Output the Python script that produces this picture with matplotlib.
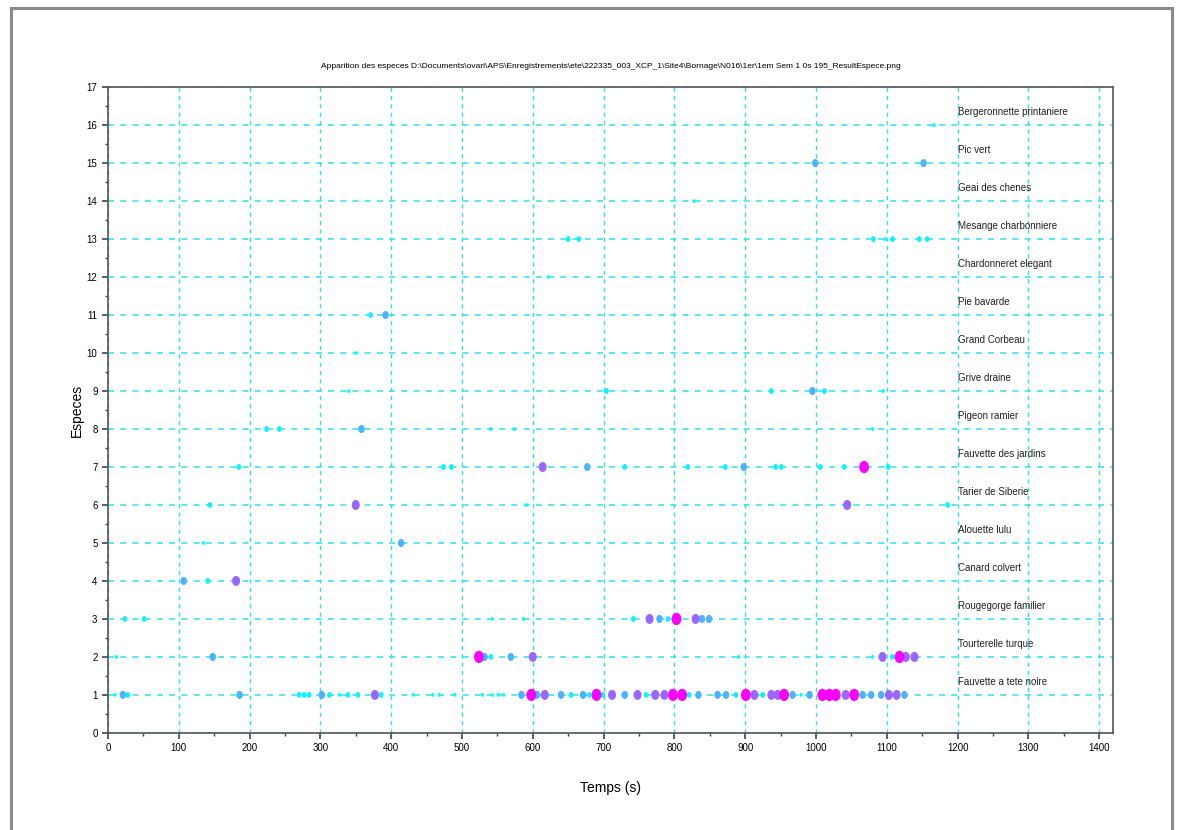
import matplotlib
matplotlib.use("Agg")
import matplotlib.pyplot as plt
from matplotlib.lines import Line2D
from matplotlib.markers import MarkerStyle
from matplotlib.transforms import Affine2D
import numpy as np

plt.rcParams['font.family'] = ['Liberation Sans', 'DejaVu Sans']

title = ("Apparition des especes D:\\Documents\\ovari\\APS\\Enregistrements\\ete\\222335_003_XCP_1\\Site4\\"
         "Bornage\\N016\\1er\\1em Sem 1 0s 195_ResultEspece.png")

species = ["Fauvette a tete noire", "Tourterelle turque", "Rougegorge familier",
           "Canard colvert", "Alouette lulu", "Tarier de Siberie", "Fauvette des jardins",
           "Pigeon ramier", "Grive draine", "Grand Corbeau", "Pie bavarde",
           "Chardonneret elegant", "Mesange charbonniere", "Geai des chenes",
           "Pic vert", "Bergeronnette printaniere"]

# detections: species index (1..16), time (s), score level (0..4)
det_species = ([1] * 65 + [2] * 14 + [3] * 12 + [4] * 3 + [5] * 2 + [6] * 5 + [7] * 15
               + [8] * 6 + [9] * 6 + [10] * 1 + [11] * 2 + [12] * 1 + [13] * 7
               + [14] * 1 + [15] * 2 + [16] * 1)
det_time = [
    # 1
    10, 21, 28, 186, 270, 277, 284, 302, 313, 327, 339, 353, 377, 386, 431, 459, 468,
    490, 529, 543, 551, 559, 584, 598, 617, 640, 654, 671, 680, 690, 699, 712, 730,
    748, 760, 773, 786, 798, 811, 821, 834, 861, 873, 887, 901, 913, 925, 937, 946,
    955, 967, 979, 991, 1009, 1019, 1028, 1042, 1054, 1066, 1078, 1092, 1103, 1114,
    1125, 606,
    # 2
    12, 148, 524, 532, 541, 569, 600, 891, 1080, 1094, 1108, 1118, 1127, 1139,
    # 3
    24, 51, 543, 587, 742, 765, 779, 791, 803, 830, 839, 849,
    # 4
    107, 141, 181,
    # 5
    135, 414,
    # 6
    144, 350, 591, 1044, 1186,
    # 7
    185, 474, 485, 614, 677, 730, 819, 872, 898, 943, 951, 1006, 1040, 1068, 1102,
    # 8
    224, 242, 358, 541, 574, 1080,
    # 9
    340, 704, 937, 995, 1012, 1095,
    # 10
    350,
    # 11
    371, 392,
    # 12
    622,
    # 13
    650, 665, 1081, 1098, 1108, 1146, 1157,
    # 14
    828,
    # 15
    999, 1152,
    # 16
    1167,
]
det_level = [
    # 1
    0, 2, 1, 2, 1, 1, 1, 2, 1, 0, 1, 1, 3, 1, 0, 0, 0,
    0, 0, 0, 0, 0, 2, 4, 3, 2, 1, 2, 1, 4, 1, 3, 2,
    3, 1, 3, 3, 4, 4, 1, 2, 2, 2, 1, 4, 3, 1, 3, 3,
    4, 2, 0, 2, 4, 4, 4, 3, 4, 2, 2, 2, 3, 3,
    2, 2,
    # 2
    0, 2, 4, 2, 1, 2, 3, 0, 0, 3, 1, 4, 3, 3,
    # 3
    1, 1, 0, 0, 1, 3, 2, 1, 4, 3, 2, 2,
    # 4
    2, 1, 3,
    # 5
    0, 2,
    # 6
    1, 3, 0, 3, 1,
    # 7
    1, 1, 1, 3, 2, 1, 1, 1, 2, 1, 1, 1, 1, 4, 1,
    # 8
    1, 1, 2, 0, 0, 0,
    # 9
    0, 1, 1, 2, 1, 0,
    # 10
    0,
    # 11
    1, 2,
    # 12
    0,
    # 13
    1, 1, 1, 0, 1, 1, 1,
    # 14
    0,
    # 15
    2, 2,
    # 16
    0,
]
level_score = [0.0, 0.05, 0.3, 0.6, 1.0]
level_size = [8, 18, 34, 52, 78]

x_ticks = list(range(0, 1401, 100))
y_ticks = list(range(0, 18))

fig = plt.figure(figsize=(11.8, 8.3), dpi=100)
ax = fig.add_axes([0.0915, 0.117, 0.852, 0.778])

# figure frame
for xs, ys in [([0.009, 0.009], [0.0, 0.99]), ([0.009, 0.993], [0.99, 0.99]), ([0.993, 0.993], [0.99, 0.0])]:
    fig.add_artist(Line2D(xs, ys, color='#8a8a8a', lw=2.2, transform=fig.transFigure))

ax.set_xlim(0, 1420)
ax.set_ylim(0, 17)

gcol = '#30e0ee'
ax.set_xticks(x_ticks)
ax.set_yticks(y_ticks)
ax.set_xticks(np.arange(50, 1420, 50), minor=True)
ax.set_yticks(np.arange(0.5, 17, 0.5), minor=True)
ax.grid(True, which='major', axis='y', color=gcol, linestyle=(0, (4, 4)), lw=1.1)
ax.grid(True, which='major', axis='x', color=gcol, linestyle=(0, (3, 3)), lw=1.0)
ax.set_axisbelow(True)

lev = np.array(det_level)
cmap = plt.get_cmap('cool')
colors = cmap(np.array(level_score)[lev])
sizes = np.array(level_size)[lev]
order = np.argsort(lev, kind='stable')
ellipse = MarkerStyle('o', transform=Affine2D().scale(0.8, 1.0))
ax.scatter(np.array(det_time)[order], np.array(det_species)[order], s=sizes[order],
           c=colors[order], edgecolors='none', marker=ellipse, zorder=3)

for i, name in enumerate(species):
    ax.text(1200, i + 1 + 0.35, name, fontsize=7, color='#222222', va='center', ha='left')

ax.tick_params(axis='both', which='major', labelsize=7, length=4, width=1.2, color='#444444')
ax.tick_params(axis='both', which='minor', length=2, width=1.0, color='#444444')
for sp in ax.spines.values():
    sp.set_color('#555555')
    sp.set_linewidth(1.2)

ax.set_xlabel('Temps (s)', fontsize=10, labelpad=20)
ax.set_ylabel('Especes', fontsize=10, labelpad=2)
ax.set_title(title, fontsize=6, pad=14)

fig.savefig('out.png', dpi=100)
